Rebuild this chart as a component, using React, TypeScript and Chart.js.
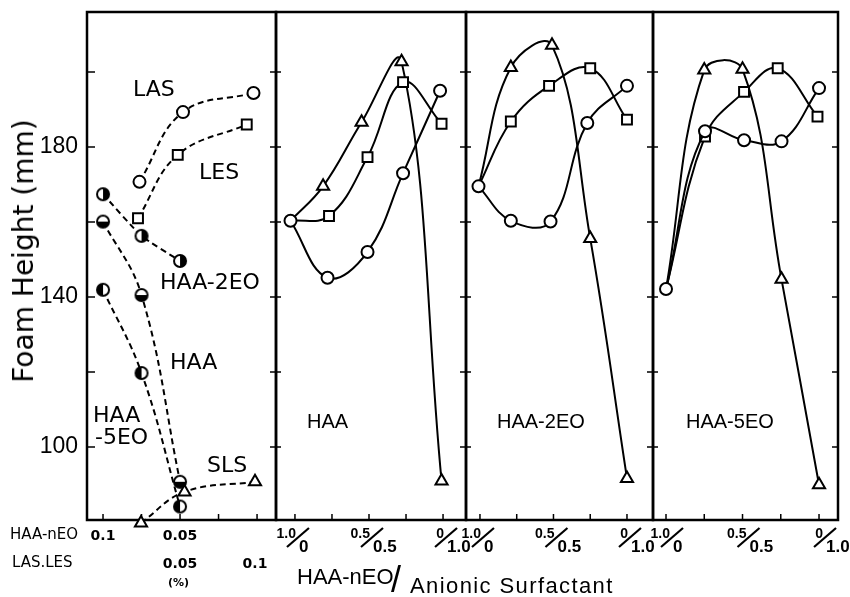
import React, { useEffect, useRef } from "react";
import { Chart, registerables } from "chart.js";

Chart.register(...registerables);

// ---------------- Data ----------------
// Panel 1: foam height (mm) vs concentration (%)
// HAA-nEO series use the upper concentration row (0.1 -> 0.05), anionic series the lower row (LAS.LES)
const haaConc = [0.1, 0.075, 0.05];
const haa2eoFoam = [167.4, 156.3, 149.6];
const haaFoam = [160.1, 140.5, 90.7];
const haa5eoFoam = [141.9, 119.7, 84.1];
const lasConc = [0.023, 0.052, 0.099];
const lasFoam = [170.7, 189.3, 194.4];
const lesConc = [0.022, 0.0485, 0.0945];
const lesFoam = [161.0, 177.9, 186.0];
const slsConc = [0.024, 0.053, 0.1];
const slsFoam = [79.7, 88.0, 90.7];

// Panels 2-4: foam height vs HAA-nEO fraction in HAA-nEO / anionic surfactant mixture
// circle = LAS, square = LES, triangle = SLS
const lasRatioHAA = [1.03, 0.78, 0.51, 0.27, 0.02];
const lasFoamHAA = [160.3, 145.1, 152.0, 173.0, 195.0];
const lesRatioHAA = [1.03, 0.77, 0.51, 0.27, 0.01];
const lesFoamHAA = [160.3, 161.6, 177.3, 197.3, 186.2];
const slsRatioHAA = [1.03, 0.81, 0.55, 0.28, 0.01];
const slsFoamHAA = [160.3, 169.5, 186.6, 202.7, 90.9];

const lasRatio2EO = [1.01, 0.79, 0.52, 0.27, 0.0];
const lasFoam2EO = [169.5, 160.3, 160.1, 186.4, 196.3];
const lesRatio2EO = [1.01, 0.79, 0.53, 0.25, 0.0];
const lesFoam2EO = [169.5, 186.8, 196.3, 201.0, 187.3];
const slsRatio2EO = [1.01, 0.79, 0.51, 0.25, 0.0];
const slsFoam2EO = [169.5, 201.2, 207.1, 155.6, 91.6];

const lasRatio5EO = [1.0, 0.745, 0.49, 0.245, 0.0];
const lasFoam5EO = [142.1, 184.2, 181.8, 181.5, 195.7];
const lesRatio5EO = [1.0, 0.745, 0.49, 0.27, 0.01];
const lesFoam5EO = [142.1, 182.8, 194.7, 201.0, 188.1];
const slsRatio5EO = [1.0, 0.75, 0.5, 0.245, 0.0];
const slsFoam5EO = [142.1, 200.5, 200.7, 144.7, 89.9];

// Axes
const foamMin = 80.5;
const foamMax = 216;
const foamTicks = [100, 120, 140, 160, 180, 200];
const foamTickLabels = [100, 140, 180];
const haaConcTicks = [0.1, 0.075, 0.05, 0.025, 0];
const haaConcLabels = [0.1, 0.05];
const anionicConcLabels = [0.05, 0.1];
const ratioTicks = [1.0, 0.75, 0.5, 0.25, 0];
const ratioLabelValues = [1.0, 0.5, 0];
const ratioLabelTop = ["1.0", "0.5", "0"];
const ratioLabelBottom = ["0", "0.5", "1.0"];

// ---------------- Helpers ----------------
const SANS = "'DejaVu Sans', sans-serif";
const ARIAL = "'Liberation Sans', Arial, sans-serif";

function pts(xs: number[], ys: number[]) {
  return xs.map((x, i) => ({ x, y: ys[i] }));
}

function halfMarker(side: "left" | "right" | "bottom") {
  const r = 6;
  const s = 2 * r + 4;
  const c = document.createElement("canvas");
  c.width = s;
  c.height = s;
  const g = c.getContext("2d")!;
  const cx = s / 2;
  const cy = s / 2;
  g.fillStyle = "#fff";
  g.beginPath();
  g.arc(cx, cy, r, 0, Math.PI * 2);
  g.fill();
  const start = side === "right" ? -Math.PI / 2 : side === "left" ? Math.PI / 2 : 0;
  g.fillStyle = "#000";
  g.beginPath();
  g.arc(cx, cy, r, start, start + Math.PI);
  g.closePath();
  g.fill();
  g.strokeStyle = "#000";
  g.lineWidth = 2;
  g.beginPath();
  g.arc(cx, cy, r, 0, Math.PI * 2);
  g.stroke();
  return c;
}

function lineDs(data: any[], extra: any) {
  return {
    data,
    borderColor: "#000",
    borderWidth: 2,
    backgroundColor: "#fff",
    pointBackgroundColor: "#fff",
    pointBorderColor: "#000",
    pointBorderWidth: 2,
    tension: 0.4,
    fill: false,
    ...extra,
  };
}

function framePlugin(spec: { leftTicks: boolean; last: boolean; tickScale: string; ticks: number[]; fraction: boolean; shift: number }) {
  return {
    id: "frame",
    beforeDatasetsDraw(chart: any) {
      const { ctx, chartArea: a, scales } = chart;
      ctx.save();
      ctx.strokeStyle = "#000";
      ctx.lineWidth = 2.5;
      ctx.strokeRect(a.left, a.top, a.right - a.left, a.bottom - a.top);
      ctx.lineWidth = 1.5;
      ctx.beginPath();
      const ys = scales.y;
      for (const v of foamTicks) {
        const py = ys.getPixelForValue(v);
        if (spec.leftTicks) {
          ctx.moveTo(a.left, py);
          ctx.lineTo(a.left + 8, py);
        }
        ctx.moveTo(a.right - 6, py);
        ctx.lineTo(a.right + (spec.last ? 0 : 5), py);
      }
      const xs = scales[spec.tickScale];
      for (const v of spec.ticks) {
        const px = xs.getPixelForValue(v);
        ctx.moveTo(px, a.bottom);
        ctx.lineTo(px, a.bottom - 6);
      }
      ctx.stroke();
      if (spec.fraction) {
        ctx.fillStyle = "#000";
        ctx.textBaseline = "alphabetic";
        ratioLabelValues.forEach((v, i) => {
          const s = xs.getPixelForValue(v) + spec.shift;
          ctx.font = `bold 14px ${ARIAL}`;
          ctx.textAlign = "right";
          ctx.fillText(ratioLabelTop[i], s - 2, a.bottom + 18);
          ctx.font = `bold 17px ${ARIAL}`;
          ctx.textAlign = "left";
          ctx.fillText(ratioLabelBottom[i], s + 1, a.bottom + 32);
          ctx.lineWidth = 2.2;
          ctx.beginPath();
          ctx.moveTo(s - 11, a.bottom + 27);
          ctx.lineTo(s + 11, a.bottom + 8);
          ctx.stroke();
        });
      }
      ctx.restore();
    },
  };
}

const yScaleBase = {
  type: "linear",
  min: foamMin,
  max: foamMax,
};

function panel1Config() {
  const m2 = halfMarker("right");
  const m0 = halfMarker("bottom");
  const m5 = halfMarker("left");
  const concAxis = (extra: any, labels: number[]) => ({
    type: "linear",
    position: "bottom",
    grid: { display: false, drawTicks: false },
    border: { display: false },
    ticks: {
      color: "#000",
      padding: 8,
      autoSkip: false,
      maxRotation: 0,
      font: { family: SANS, size: 14, weight: "bold" },
      callback: (v: number) => String(v),
    },
    afterBuildTicks: (s: any) => {
      s.ticks = labels.map((v) => ({ value: v }));
    },
    afterFit: (s: any) => {
      s.height = 28;
      s.paddingLeft = 0;
      s.paddingRight = 0;
    },
    ...extra,
  });
  return {
    type: "line",
    data: {
      datasets: [
        lineDs(pts(lasConc, lasFoam), { xAxisID: "xa", yAxisID: "y", pointStyle: "circle", pointRadius: 6, borderDash: [6, 4] }),
        lineDs(pts(lesConc, lesFoam), { xAxisID: "xa", yAxisID: "y", pointStyle: "rect", pointRadius: 7, borderDash: [6, 4] }),
        lineDs(pts(slsConc, slsFoam), { xAxisID: "xa", yAxisID: "y", pointStyle: "triangle", pointRadius: 7, borderDash: [6, 4], clip: false }),
        lineDs(pts(haaConc, haa2eoFoam), { xAxisID: "xh", yAxisID: "y", pointStyle: m2, pointRadius: 6, borderDash: [6, 4], tension: 0.2 }),
        lineDs(pts(haaConc, haaFoam), { xAxisID: "xh", yAxisID: "y", pointStyle: m0, pointRadius: 6, borderDash: [6, 4] }),
        lineDs(pts(haaConc, haa5eoFoam), { xAxisID: "xh", yAxisID: "y", pointStyle: m5, pointRadius: 6, borderDash: [6, 4] }),
      ],
    },
    options: {
      responsive: false,
      animation: false,
      events: [],
      layout: { padding: { left: 0, right: 850 - 276, top: 12, bottom: 21 } },
      plugins: { legend: { display: false }, tooltip: { enabled: false } },
      scales: {
        y: {
          ...yScaleBase,
          position: "left",
          grid: { display: false, drawTicks: false },
          border: { display: false },
          ticks: {
            color: "#000",
            padding: 9,
            font: { family: ARIAL, size: 23 },
            callback: (v: number) => (foamTickLabels.includes(v) ? String(v) : ""),
          },
          afterBuildTicks: (s: any) => {
            s.ticks = foamTicks.map((v) => ({ value: v }));
          },
          afterFit: (s: any) => {
            s.width = 87;
            s.paddingTop = 0;
            s.paddingBottom = 0;
          },
        },
        xh: concAxis({ reverse: true, min: -0.0123, max: 0.1104, weight: 0 }, haaConcLabels),
        xa: concAxis({ min: -0.012, max: 0.114, weight: 1 }, anionicConcLabels),
      },
    },
    plugins: [framePlugin({ leftTicks: true, last: false, tickScale: "xh", ticks: haaConcTicks, fraction: false, shift: 0 })],
  };
}

function ratioConfig(p: any) {
  const hideFirst = (c: any) => (c.dataIndex === 0 ? 0 : 7);
  return {
    type: "line",
    data: {
      datasets: [
        lineDs(p.las, { pointStyle: "circle", pointRadius: 6 }),
        lineDs(p.les, { pointStyle: "rect", pointRadius: hideFirst }),
        lineDs(p.sls, { pointStyle: "triangle", pointRadius: hideFirst }),
      ],
    },
    options: {
      responsive: false,
      animation: false,
      events: [],
      layout: { padding: { left: p.left, right: 850 - p.right, top: 12, bottom: 77 } },
      plugins: { legend: { display: false }, tooltip: { enabled: false } },
      scales: {
        x: { type: "linear", reverse: true, min: p.min, max: p.max, display: false },
        y: { ...yScaleBase, display: false },
      },
    },
    plugins: [framePlugin({ leftTicks: false, last: p.last, tickScale: "x", ticks: ratioTicks, fraction: true, shift: p.shift })],
  };
}

const ratioPanels = [
  { las: pts(lasRatioHAA, lasFoamHAA), les: pts(lesRatioHAA, lesFoamHAA), sls: pts(slsRatioHAA, slsFoamHAA), left: 276, right: 466, min: -0.155, max: 1.128, shift: 3, last: false },
  { las: pts(lasRatio2EO, lasFoam2EO), les: pts(lesRatio2EO, lesFoam2EO), sls: pts(slsRatio2EO, slsFoam2EO), left: 466, right: 653, min: -0.177, max: 1.095, shift: 3, last: false },
  { las: pts(lasRatio5EO, lasFoam5EO), les: pts(lesRatio5EO, lesFoam5EO), sls: pts(slsRatio5EO, slsFoam5EO), left: 653, right: 838, min: -0.124, max: 1.085, shift: 6, last: true },
];

function Txt(props: { x: number; base: number; size: number; text: string; family?: string; weight?: number | string; ls?: number }) {
  const { x, base, size, text, family = SANS, weight = 400, ls = 0 } = props;
  return (
    <div
      style={{
        position: "absolute",
        left: x,
        top: base - 0.846 * size,
        fontSize: size,
        lineHeight: `${size}px`,
        fontFamily: family,
        fontWeight: weight as any,
        letterSpacing: ls,
        whiteSpace: "nowrap",
        color: "#000",
      }}
    >
      {text}
    </div>
  );
}

export default function App() {
  const c1 = useRef<HTMLCanvasElement>(null);
  const c2 = useRef<HTMLCanvasElement>(null);
  const c3 = useRef<HTMLCanvasElement>(null);
  const c4 = useRef<HTMLCanvasElement>(null);

  useEffect(() => {
    const charts: Chart[] = [];
    charts.push(new Chart(c1.current!, panel1Config() as any));
    [c2, c3, c4].forEach((r, i) => {
      charts.push(new Chart(r.current!, ratioConfig(ratioPanels[i]) as any));
    });
    return () => charts.forEach((c) => c.destroy());
  }, []);

  const canvasStyle: React.CSSProperties = { position: "absolute", left: 0, top: 0, width: 850, height: 597 };

  return (
    <div style={{ position: "absolute", left: 0, top: 0, width: 850, height: 597, background: "#fff", overflow: "hidden" }}>
      <canvas ref={c1} width={850} height={597} style={canvasStyle} />
      <canvas ref={c2} width={850} height={597} style={canvasStyle} />
      <canvas ref={c3} width={850} height={597} style={canvasStyle} />
      <canvas ref={c4} width={850} height={597} style={canvasStyle} />

      {/* panel 1 curve labels */}
      <Txt x={133} base={97} size={22} text="LAS" />
      <Txt x={199} base={180} size={22} text="LES" />
      <Txt x={160} base={290} size={22} text="HAA-2EO" />
      <Txt x={170} base={370} size={22} text="HAA" />
      <Txt x={93} base={423} size={22} text="HAA" />
      <Txt x={95} base={445} size={22} text="-5EO" />
      <Txt x={207} base={473} size={22} text="SLS" />

      {/* panel titles */}
      <Txt x={307} base={428} size={20} family={ARIAL} text="HAA" />
      <Txt x={497} base={428} size={20} family={ARIAL} text="HAA-2EO" />
      <Txt x={686} base={428} size={20} family={ARIAL} text="HAA-5EO" />

      {/* axis row labels */}
      <Txt x={10} base={540} size={15} text="HAA-nEO" />
      <Txt x={12} base={568} size={15} text="LAS.LES" />
      <Txt x={168} base={586} size={11} weight="bold" text="(%)" />

      {/* x title */}
      <Txt x={297} base={585} size={22} family={ARIAL} text="HAA-nEO" />
      <Txt x={391} base={592} size={36} family={ARIAL} text="/" />
      <Txt x={410} base={594} size={22} family={ARIAL} ls={1.4} text="Anionic Surfactant" />

      {/* y title */}
      <div
        style={{
          position: "absolute",
          left: 24,
          top: 251,
          transform: "translate(-50%, -50%) rotate(-90deg)",
          fontFamily: SANS,
          fontSize: 28,
          lineHeight: "28px",
          whiteSpace: "nowrap",
          color: "#000",
        }}
      >
        Foam Height (mm)
      </div>
    </div>
  );
}
